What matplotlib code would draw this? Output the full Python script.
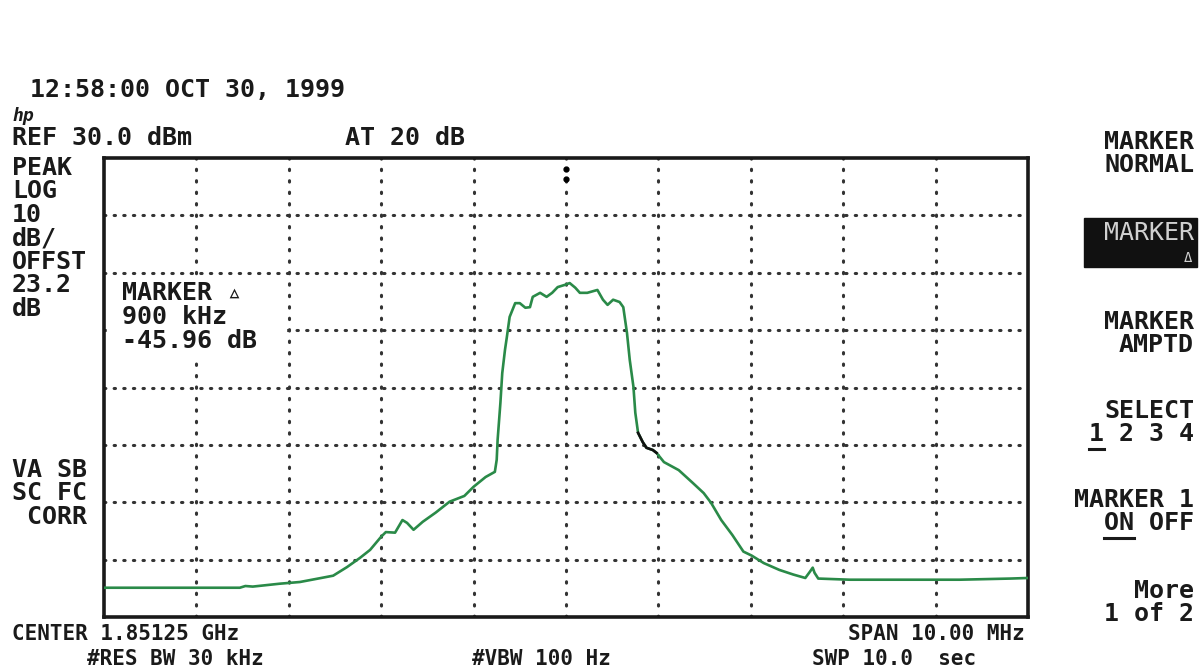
import numpy as np
import matplotlib
matplotlib.use("Agg")
import matplotlib.pyplot as plt
from matplotlib.lines import Line2D
from matplotlib.patches import Rectangle

# Trace: offset from centre (MHz) and level (dBm)
freq_offset_mhz = [-5.00, -3.53, -3.47, -3.39, -3.10, -2.88, -2.65, -2.52, -2.37, -2.23,
                   -2.12, -2.00, -1.95, -1.85, -1.77, -1.72, -1.65, -1.55, -1.41, -1.26,
                   -1.10, -1.00, -0.87, -0.77, -0.75, -0.74, -0.71, -0.69, -0.66, -0.64,
                   -0.61, -0.55, -0.50, -0.44, -0.39, -0.36, -0.28, -0.21, -0.15, -0.09,
                   -0.01, 0.04, 0.10, 0.15, 0.23, 0.34, 0.40, 0.45, 0.51, 0.58,
                   0.62, 0.66, 0.69, 0.73, 0.75, 0.78, 0.83, 0.87, 0.94, 0.98,
                   1.06, 1.22, 1.37, 1.49, 1.57, 1.68, 1.80, 1.92, 2.01, 2.14,
                   2.31, 2.46, 2.59, 2.64, 2.67, 2.69, 2.73, 3.07, 3.61, 4.26,
                   4.81, 5.00]
level_dbm = [-44.9, -44.9, -44.6, -44.7, -44.2, -43.9, -43.2, -42.8, -41.3, -39.7,
             -38.3, -36.0, -35.2, -35.3, -33.1, -33.6, -34.8, -33.4, -31.8, -29.9,
             -28.9, -27.3, -25.6, -24.7, -22.6, -19.1, -12.7, -7.5, -3.4, -1.2,
             2.3, 4.7, 4.7, 3.9, 4.0, 5.8, 6.5, 5.8, 6.5, 7.5,
             7.9, 8.2, 7.4, 6.5, 6.5, 7.0, 5.3, 4.4, 5.3, 4.9,
             4.0, -0.5, -5.2, -9.9, -14.4, -17.9, -19.5, -20.5, -20.9, -21.4,
             -23.0, -24.4, -26.6, -28.4, -30.1, -33.1, -35.7, -38.6, -39.3, -40.6,
             -41.8, -42.6, -43.2, -42.1, -41.4, -42.3, -43.3, -43.5, -43.5, -43.5,
             -43.3, -43.2]

ref_level = 30.0
db_per_div = 10
span_mhz = 10.0
marker_zone = (0.78, 0.98)

left_labels = ["PEAK", "LOG", "10", "dB/", "OFFST", "23.2", "dB"]
corr_labels = ["VA SB", "SC FC", " CORR"]
marker_readout = ["MARKER \u25b5", "900 kHz", "-45.96 dB"]
softkeys = [("MARKER", "NORMAL"), ("MARKER", "AMPTD"), ("SELECT", "1 2 3 4"),
            ("MARKER 1", "ON OFF"), ("More", "1 of 2")]
# how many leading characters of the lower softkey line are underlined
softkey_underline = [0, 0, 1, 2, 0]

W, H = 1201, 670
fig = plt.figure(figsize=(W / 100, H / 100), dpi=100)
fig.patch.set_facecolor("white")


def fx(x):
    return x / W


def fy(y):
    return 1 - y / H


# graticule box in pixels
bx0, bx1, by0, by1 = 104, 1028, 158, 617
ax = fig.add_axes([fx(bx0), fy(by1), (bx1 - bx0) / W, (by1 - by0) / H])
ax.set_xlim(-span_mhz / 2, span_mhz / 2)
ax.set_ylim(ref_level - 8 * db_per_div, ref_level)
ax.set_xticks([])
ax.set_yticks([])
for s in ax.spines.values():
    s.set_linewidth(2.6)
    s.set_color("#1a1a1a")

# dotted graticule
for k in range(1, 10):
    ax.axvline(-span_mhz / 2 + k * span_mhz / 10, color="#333333", lw=2.2,
               dashes=(0.45, 3.3), dash_capstyle="round", zorder=1)
for k in range(1, 8):
    ax.axhline(ref_level - k * db_per_div, color="#333333", lw=2.2,
               dashes=(0.45, 2.7), dash_capstyle="round", zorder=1)

fo = np.array(freq_offset_mhz)
lv = np.array(level_dbm)
ax.plot(fo, lv, color="#2a8a48", lw=1.9, zorder=3)
sel = (fo >= marker_zone[0]) & (fo <= marker_zone[1])
ax.plot(fo[sel], lv[sel], color="#111111", lw=1.9, zorder=4)

# marker ticks at top centre and stray dot
ax.plot([0, 0], [28.1, 26.3], "o", color="black", ms=3.5, zorder=4)
ax.plot([-4.77], [-1.7], "o", color="black", ms=1.8, zorder=4)

mono = ["DejaVu Sans Mono", "DejaVu Sans"]
fs = 18


def txt(x, y, s, ha="left", **kw):
    kw.setdefault("fontsize", fs)
    kw.setdefault("fontweight", "bold")
    kw.setdefault("color", "#1a1a1a")
    return fig.text(fx(x), fy(y), s, ha=ha, va="baseline", family=mono, **kw)


# header
txt(30, 97, "12:58:00 OCT 30, 1999")
txt(12, 121, "hp", fontsize=13, style="italic")
txt(12, 145, "REF 30.0 dBm")
txt(345, 145, "AT 20 dB")

for i, s in enumerate(left_labels):
    txt(12, 175 + i * 23.5, s)
for i, s in enumerate(corr_labels):
    txt(12, 477 + i * 23.5, s)

# the marker readout blanks the graticule behind it
fig.add_artist(Rectangle((fx(107), fy(358)), (286 - 107) / W, (358 - 276) / H,
                         transform=fig.transFigure, color="white", zorder=2))
for i, s in enumerate(marker_readout):
    txt(122, 300 + i * 24, s, zorder=3)

# softkeys on the right
key_y = [172, 352, 441, 530, 621]
lower_texts = []
for (a, b), y in zip(softkeys, key_y):
    txt(1194, y - 23, a, ha="right")
    lower_texts.append(txt(1194, y, b, ha="right"))

# highlighted MARKER delta key
fig.add_artist(Rectangle((fx(1084), fy(267)), (1197 - 1084) / W, (267 - 218) / H,
                         transform=fig.transFigure, color="#111111", zorder=5))
txt(1194, 240, "MARKER", ha="right", fontweight="normal", color="#d0d0d0", zorder=6)
txt(1192, 262, "\u0394", ha="right", fontsize=10, fontweight="normal", color="#d0d0d0", zorder=6)

fig.canvas.draw()
renderer = fig.canvas.get_renderer()
for t, n in zip(lower_texts, softkey_underline):
    if n == 0:
        continue
    bb = t.get_window_extent(renderer)
    s = t.get_text()
    x0 = bb.x0
    x1 = bb.x0 + bb.width * n / len(s)
    yline = bb.y0 - 3
    fig.add_artist(Line2D([x0 / W, x1 / W], [yline / H, yline / H],
                          transform=fig.transFigure, color="#1a1a1a", lw=2.2))

# footer
ffs = 15
txt(12, 640, "CENTER 1.85125 GHz", fontsize=ffs)
txt(1025, 640, "SPAN 10.00 MHz", ha="right", fontsize=ffs)
txt(87, 665, "#RES BW 30 kHz", fontsize=ffs)
txt(472, 665, "#VBW 100 Hz", fontsize=ffs)
txt(812, 665, "SWP 10.0  sec", fontsize=ffs)

fig.savefig("out.png", dpi=100)
